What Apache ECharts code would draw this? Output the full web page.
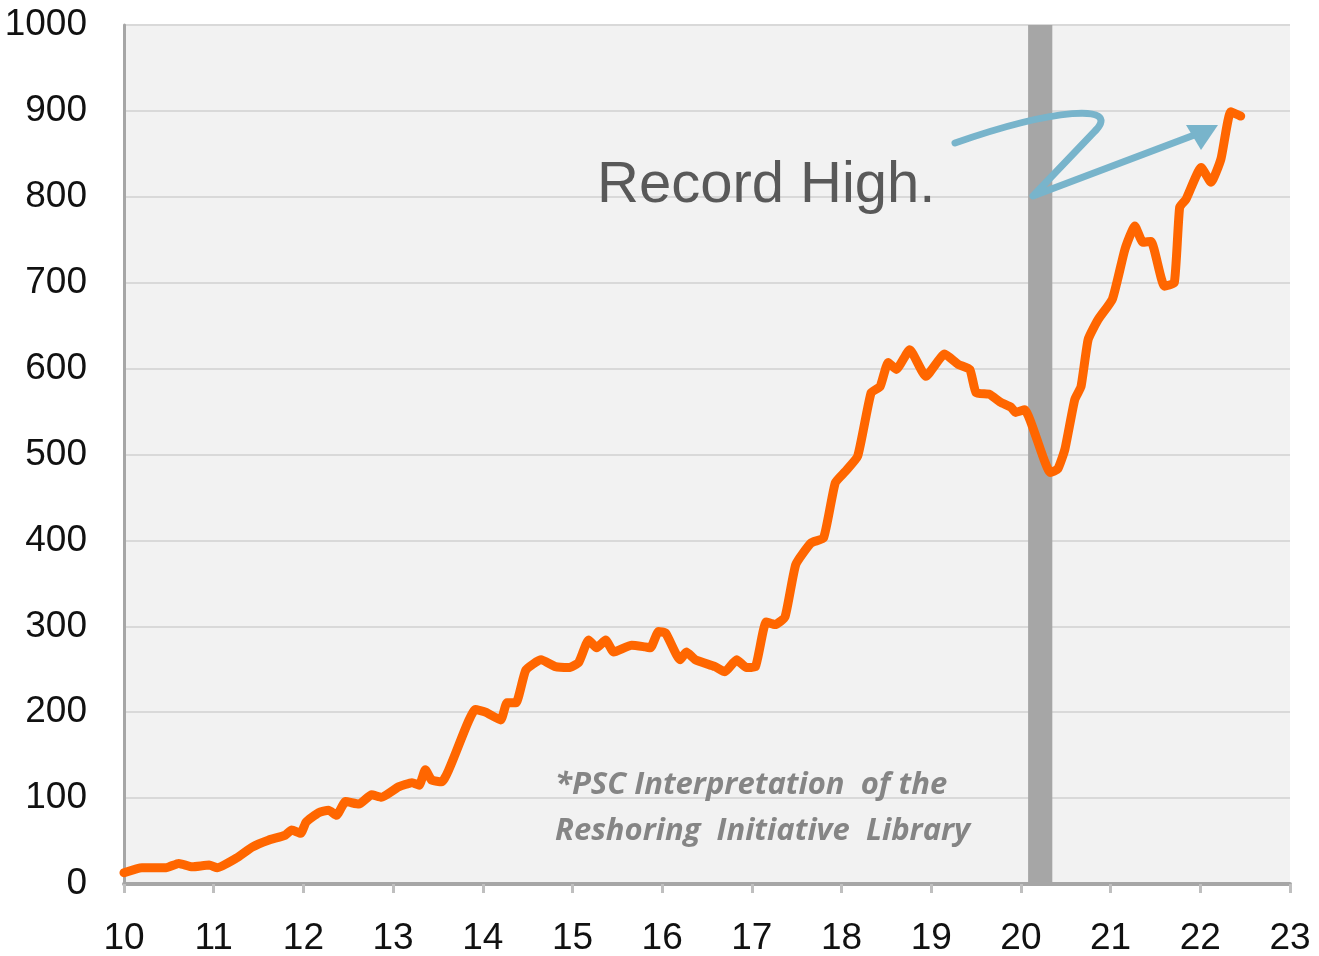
<!DOCTYPE html>
<html>
<head>
<meta charset="utf-8">
<script src="https://cdn.jsdelivr.net/npm/echarts@6/dist/echarts.min.js"></script>
<style>
  html, body { margin: 0; padding: 0; background: #fff; }
  #chart { width: 1319px; height: 956px; }
</style>
</head>
<body>
<div id="chart"></div>
<script>
// years as decimals (10 = 2010)
const years = [
  10.00, 10.20, 10.47, 10.61, 10.76, 10.95, 11.04, 11.25, 11.43, 11.61, 11.80, 11.87, 11.97,
  12.03, 12.17, 12.28, 12.37, 12.47, 12.62, 12.76, 12.87, 13.06, 13.21, 13.29, 13.36, 13.43,
  13.54, 13.92, 14.03, 14.20, 14.27, 14.37, 14.48, 14.65, 14.81, 14.96, 15.07, 15.18, 15.27,
  15.37, 15.46, 15.66, 15.81, 15.87, 15.96, 16.04, 16.20, 16.27, 16.37, 16.59, 16.70, 16.83,
  16.94, 17.04, 17.16, 17.26, 17.37, 17.49, 17.66, 17.80, 17.93, 18.04, 18.18, 18.33, 18.43,
  18.52, 18.61, 18.76, 18.94, 19.15, 19.30, 19.43, 19.50, 19.65, 19.77, 19.89, 19.94, 20.04,
  20.33, 20.41, 20.49, 20.60, 20.67, 20.75, 20.86, 21.02, 21.16, 21.27, 21.36, 21.45, 21.60,
  21.71, 21.77, 21.84, 22.01, 22.12, 22.23, 22.34, 22.45
]
const projects = [
  13, 19, 19, 24, 20, 22, 19, 30, 43, 51, 57, 63, 59,
  72, 83, 86, 80, 96, 93, 104, 101, 113, 118, 115, 133, 121,
  119, 203, 200, 191, 211, 211, 249, 261, 253, 252, 258, 284, 275,
  284, 270, 278, 276, 275, 294, 292, 261, 270, 261, 253, 247, 261,
  252, 253, 305, 302, 311, 372, 397, 403, 467, 480, 498, 572, 579,
  607, 599, 622, 591, 617, 605, 599, 572, 570, 561, 555, 549, 552,
  479, 483, 506, 564, 579, 634, 657, 681, 739, 766, 747, 748, 696,
  700, 788, 797, 834, 817, 844, 899, 894
]
const recession = [20.08, 20.35]
const yTicks = [0, 1000, 100]
const xTicks = [10, 23, 1]

const chartDom = document.getElementById('chart')
const myChart = echarts.init(chartDom)

const labelFont = "'Liberation Sans', Arial, sans-serif"
const arrowColor = '#78b4cb'

const option = {
  animation: false,
  backgroundColor: '#ffffff',
  grid: {
    left: 124,
    right: 29,
    top: 25,
    bottom: 72,
    outerBoundsMode: 'none',
    containLabel: false,
    show: true,
    backgroundColor: '#f2f2f2',
    borderWidth: 0
  },
  xAxis: {
    type: 'value',
    min: xTicks[0],
    max: xTicks[1],
    interval: xTicks[2],
    axisLine: { show: true, onZero: false, lineStyle: { color: '#a6a6a6', width: 4 } },
    axisTick: { show: true, inside: false, length: 9, lineStyle: { color: '#bfbfbf', width: 3 } },
    splitLine: { show: false },
    axisLabel: {
      color: '#111',
      fontSize: 37,
      fontFamily: labelFont,
      margin: 36,
      formatter: (v) => String(v)
    }
  },
  yAxis: {
    type: 'value',
    min: yTicks[0],
    max: yTicks[1],
    interval: yTicks[2],
    axisLine: { show: true, lineStyle: { color: '#a6a6a6', width: 3 } },
    axisTick: { show: false },
    splitLine: { show: true, lineStyle: { color: '#d9d9d9', width: 2 } },
    axisLabel: {
      color: '#111',
      fontSize: 37,
      fontFamily: labelFont,
      margin: 37,
      formatter: (v) => String(v)
    }
  },
  series: [
    {
      name: 'Reshoring',
      type: 'line',
      data: years.map((y, i) => [y, projects[i]]),
      showSymbol: false,
      smooth: 0.15,
      lineStyle: { color: '#ff6600', width: 9, cap: 'round', join: 'round' },
      z: 5,
      markArea: {
        silent: true,
        itemStyle: { color: '#a6a6a6' },
        data: [[{ xAxis: recession[0] }, { xAxis: recession[1] }]]
      }
    }
  ],
  graphic: [
    {
      type: 'text',
      x: 597,
      y: 157,
      style: {
        text: 'Record High.',
        fill: '#595959',
        font: "58px 'Liberation Sans', Arial, sans-serif"
      },
      z: 10
    },
    {
      type: 'text',
      x: 555,
      y: 762,
      style: {
        text: '*PSC Interpretation  of the\nReshoring  Initiative  Library',
        fill: '#858585',
        font: "italic bold 31px 'Open Sans', sans-serif",
        lineHeight: 46
      },
      z: 10
    },
    // hand-drawn arrow pointing at the record high
    {
      type: 'bezierCurve',
      shape: { x1: 955, y1: 143, x2: 1096, y2: 130, cpx1: 1055, cpy1: 108, cpx2: 1120, cpy2: 104 },
      style: { stroke: arrowColor, lineWidth: 7, fill: null, lineCap: 'round' },
      z: 10
    },
    {
      type: 'polyline',
      shape: { points: [[1096, 130], [1033, 196], [1197, 134]] },
      style: { stroke: arrowColor, lineWidth: 7, fill: null, lineCap: 'round', lineJoin: 'round' },
      z: 10
    },
    {
      type: 'polygon',
      shape: { points: [[1218, 125], [1186, 125], [1201, 150]] },
      style: { fill: arrowColor },
      z: 10
    }
  ]
}

myChart.setOption(option)
window.addEventListener('resize', function () {
  myChart.resize()
})
</script>
</body>
</html>
